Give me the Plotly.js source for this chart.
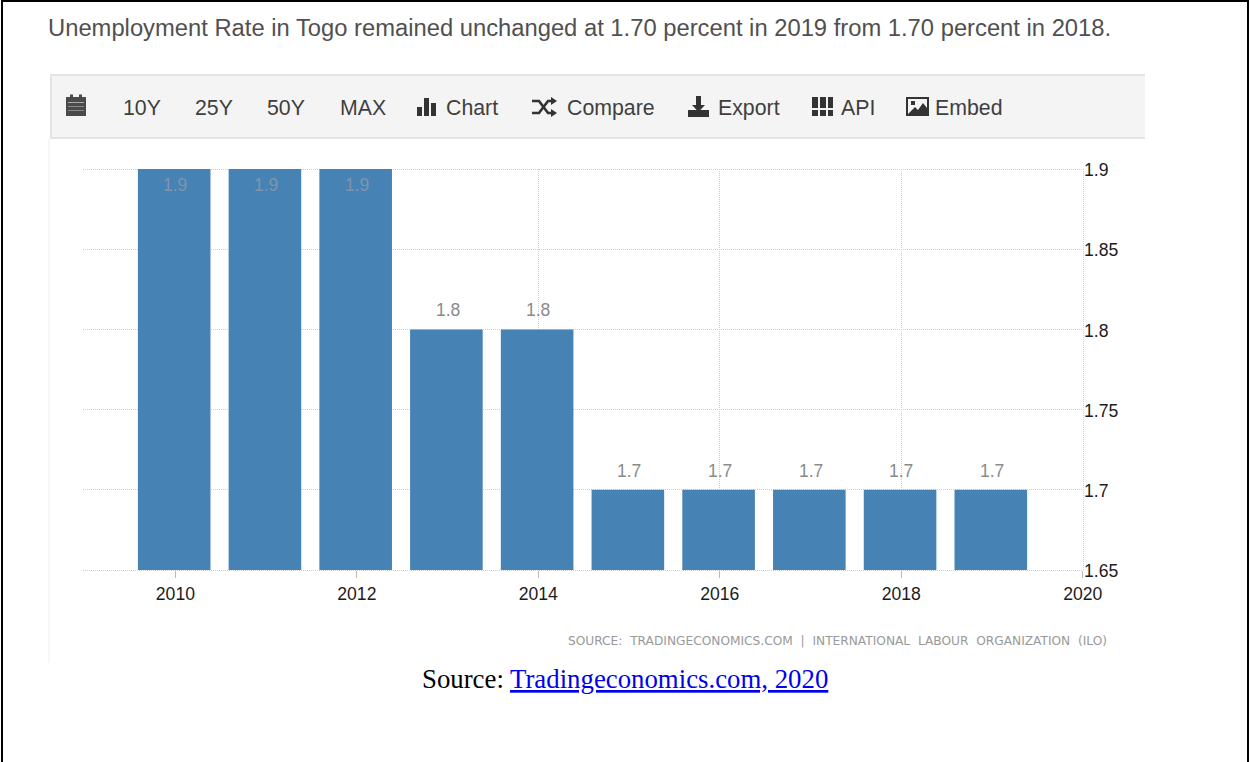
<!DOCTYPE html>
<html><head><meta charset="utf-8">
<script src="https://cdn.plot.ly/plotly-3.0.1.min.js"></script>
<style>html,body{margin:0;padding:0;background:#fff;overflow:hidden}#c{width:1250px;height:762px}</style>
</head><body><div id="c"></div>
<script>
const years = [2010,2011,2012,2013,2014,2015,2016,2017,2018,2019];
const rates = [1.9,1.9,1.9,1.8,1.8,1.7,1.7,1.7,1.7,1.7];
const rateLabels = ['1.9','1.9','1.9','1.8','1.8','1.7','1.7','1.7','1.7','1.7'];
const yTicks = [1.65,1.7,1.75,1.8,1.85,1.9];
const yTickLabels = ['1.65','1.7','1.75','1.8','1.85','1.9'];
const xTicks = [2010,2012,2014,2016,2018,2020];
const menuItems = [['10Y',123],['25Y',195],['50Y',267],['MAX',340],['Chart',446],['Compare',567],['Export',718],['API',841],['Embed',935]];
const headline = 'Unemployment Rate in Togo remained unchanged at 1.70 percent in 2019 from 1.70 percent in 2018.';
const sourceLine = 'SOURCE:\u00a0 TRADINGECONOMICS.COM\u00a0 |\u00a0 INTERNATIONAL\u00a0 LABOUR\u00a0 ORGANIZATION\u00a0 (ILO)';

const W = 1250, H = 762;
const px = x => x / W, py = y => 1 - y / H;
const sans = 'Liberation Sans, Arial, sans-serif';
const serif = 'Liberation Serif, Times New Roman, serif';
const ink = '#3f3f3f';
const gridColor = '#cfcfcf', gridDash = '1px,1px';

function rect(x0,y0,x1,y1,fill){
  return {type:'rect',xref:'paper',yref:'paper',x0:px(x0),x1:px(x1),y0:py(y0),y1:py(y1),fillcolor:fill,line:{width:0},layer:'below'};
}
function poly(points,fill){
  const d = points.map((p,i)=>(i?'L':'M')+px(p[0])+','+py(p[1])).join(' ')+' Z';
  return {type:'path',xref:'paper',yref:'paper',path:d,fillcolor:fill,line:{width:0},layer:'below'};
}
function stroke(points,color,width,dash){
  const d = points.map((p,i)=>(i?'L':'M')+px(p[0])+','+py(p[1])).join(' ');
  return {type:'path',xref:'paper',yref:'paper',path:d,line:{color:color,width:width,dash:dash||'solid'},layer:'below'};
}
function label(text,x,y,size,color,family,anchor,extra){
  return Object.assign({xref:'paper',yref:'paper',x:px(x),y:py(y),xanchor:anchor||'left',yanchor:'middle',
    showarrow:false,text:text,font:{size:size,color:color,family:family||sans},borderpad:0,borderwidth:0},extra||{});
}

const shapes = [
  // page frame (open at the bottom)
  rect(1,0,3,762,'#000'), rect(1,0,1249,2,'#000'), rect(1247,0,1249,762,'#000'),
  // toolbar
  rect(50,74,1145,139,'#e4e4e4'), rect(52,76,1145,137,'#f4f4f4'),
  rect(48,139,49.5,663,'#f5f5f5'),
  // grid lines that sit on the plot edges
  stroke([[83,169.5],[1083,169.5]],gridColor,1,gridDash),
  stroke([[83,570.5],[1083,570.5]],gridColor,1,gridDash),
  stroke([[1083.5,169],[1083.5,570]],gridColor,1,gridDash),
  // calendar icon
  rect(66,97,86,116,'#4a4a4a'), rect(70,94.5,73,99,'#4a4a4a'), rect(79,94.5,82,99,'#4a4a4a'),
  rect(68,102,84,103,'#aaa'), rect(68,106,84,106.8,'#999'), rect(68,110,84,110.8,'#999'),
  // chart icon
  rect(417,107,422,116,'#333'), rect(424,98,429,116,'#333'), rect(431,103,436,116,'#333'),
  // shuffle icon
  stroke([[532,101],[539,101],[548,113],[553,113]],'#333',2.6),
  stroke([[532,113],[539,113],[548,101],[553,101]],'#333',2.6),
  poly([[551,97],[557,101],[551,105]],'#333'), poly([[551,109],[557,113],[551,117]],'#333'),
  // export icon
  rect(696,96,701,106,'#333'), poly([[692,105],[705,105],[698.5,112]],'#333'),
  rect(688,110,709,117,'#333'),
  // API icon
  rect(812,97,818,108,'#333'), rect(820,97,826,108,'#333'), rect(828,97,833,108,'#333'),
  rect(812,110,818,116,'#333'), rect(820,110,826,116,'#333'), rect(828,110,833,116,'#333'),
  // embed icon
  rect(906,97,929,116,'#333'), rect(908,99,927,114,'#f4f4f4'),
  poly([[908,114],[915,107],[918,110],[923,103],[927,108],[927,114]],'#333'),
  rect(911,101,915,105,'#333')
];

const barLabels = years.map((yr,i)=>({
  xref:'x',yref:'y',x:yr,y:rates[i],xanchor:'center',yanchor:'middle',showarrow:false,
  text:rateLabels[i],yshift:rates[i]>=1.9?-16:19,
  font:{family:sans,size:17.5,color:rates[i]>=1.9?'#7f95ab':'#8a8a8a'}
}));

const annotations = [
  label(headline,48,28,23.77,'#505050'),
  ...menuItems.map(m=>label(m[0],m[1],107.5,21.3,ink)),
  label(sourceLine,1107,641,12.2,'#999','DejaVu Sans, sans-serif','right'),
  label('Source:',422,679,26.8,'#000',serif),
  label('Tradingeconomics.com, 2020',510,679,26.8,'#0000ee',serif,'left'),
  ...barLabels
];
annotations.find(a=>a.text.startsWith('Trading')).font.lineposition = 'under';

const trace = {
  type:'bar', x:years, y:rates, width:0.8, offset:-0.413,
  marker:{color:'#4682b4',line:{width:0}},
  hoverinfo:'x+y'
};

const layout = {
  width:W, height:H, margin:{l:0,r:0,t:0,b:0,pad:0},
  paper_bgcolor:'#fff', plot_bgcolor:'#fff', showlegend:false,
  xaxis:{domain:[px(83),px(1083)],range:[2008.982,2020.003],tickvals:xTicks,ticktext:xTicks.map(String),
    showgrid:true,gridcolor:gridColor,griddash:gridDash,gridwidth:1,zeroline:false,showline:false,
    ticks:'outside',ticklen:7,tickcolor:'#bbbbbb',tickwidth:1,ticklabelstandoff:1,
    tickfont:{family:sans,size:17.6,color:'#1c1c1c'}},
  yaxis:{domain:[py(570),py(169)],range:[1.65,1.9],side:'right',tickvals:yTicks,ticktext:yTickLabels,
    showgrid:true,gridcolor:gridColor,griddash:gridDash,gridwidth:1,zeroline:false,showline:false,
    ticks:'',ticklabelshift:1,tickfont:{family:sans,size:17.6,color:'#1c1c1c'}},
  shapes:shapes, annotations:annotations
};
Plotly.newPlot('c',[trace],layout,{displayModeBar:false,staticPlot:true});
</script></body></html>
